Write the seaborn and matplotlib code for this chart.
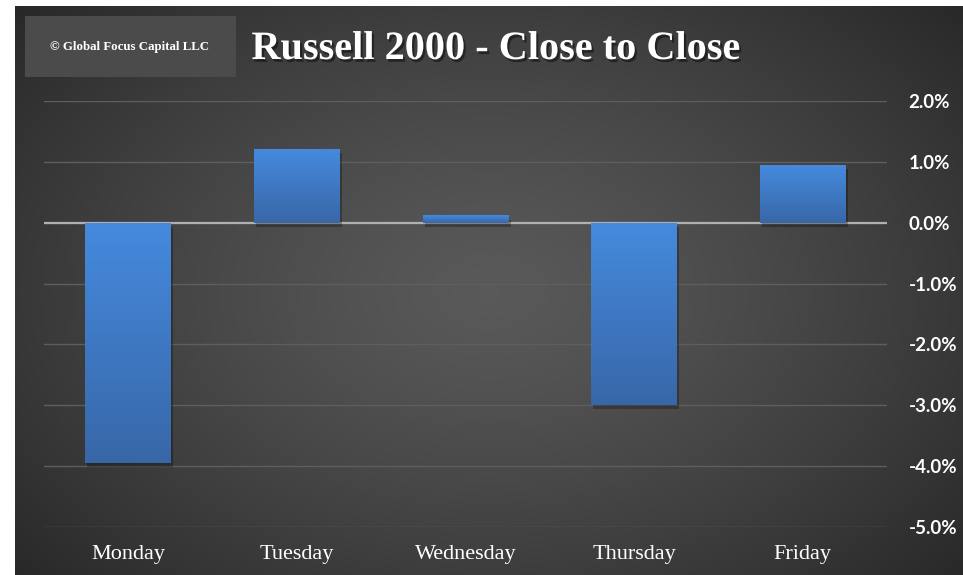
import numpy as np
import pandas as pd
import matplotlib
matplotlib.use("Agg")
import matplotlib.pyplot as plt
import matplotlib.patheffects as pe
from matplotlib.ticker import FuncFormatter
import seaborn as sns

# ---- data ----
days = ["Monday", "Tuesday", "Wednesday", "Thursday", "Friday"]
returns = [-0.0395, 0.0121, 0.0012, -0.0299, 0.0095]
y_ticks = [0.02, 0.01, 0.0, -0.01, -0.02, -0.03, -0.04, -0.05]
title = "Russell 2000 - Close to Close"
watermark = "\u00a9 Global Focus Capital LLC"

df = pd.DataFrame({"day": days, "ret": returns})

W, H = 963, 575
fig = plt.figure(figsize=(W / 100, H / 100), dpi=100, facecolor="white")

# background with radial gradient
bg = fig.add_axes([15 / W, 0, (W - 15) / W, (H - 6) / H])
bg.set_axis_off()
yy, xx = np.mgrid[0:300, 0:500]
cx, cy = 250, 150
r = np.sqrt(((xx - cx) / 250.0) ** 2 + ((yy - cy) / 170.0) ** 2)
r = np.clip(r / 1.35, 0, 1)
c0, c1 = 0.35, 0.155
val = c0 + (c1 - c0) * r ** 1.3
img = np.dstack([val, val, val])
bg.imshow(img, aspect="auto", extent=[0, 1, 0, 1], interpolation="bilinear")
bg.set_xlim(0, 1)
bg.set_ylim(0, 1)

# main axes
ax = fig.add_axes([44 / W, (H - 527) / H, 843 / W, 426 / H])
ax.patch.set_alpha(0)
sns.barplot(data=df, x="day", y="ret", ax=ax, color="#4282d6", width=0.51,
            saturation=1, zorder=3)

# bar gradients and shadows
grad = np.linspace(0, 1, 100).reshape(-1, 1)
top_c = np.array([0x45, 0x8a, 0xdd]) / 255
bot_c = np.array([0x38, 0x67, 0xa8]) / 255
gimg = top_c[None, None, :] * (1 - grad[:, :, None]) + bot_c[None, None, :] * grad[:, :, None]
for p in ax.patches:
    p.set_edgecolor("none")
    p.set_path_effects([pe.SimplePatchShadow(offset=(1.5, -3), shadow_rgbFace="black", alpha=0.28),
                        pe.Normal()])
    x0, y0 = p.get_x(), p.get_y()
    w, h = p.get_width(), p.get_height()
    ylo, yhi = min(y0, y0 + h), max(y0, y0 + h)
    im = ax.imshow(gimg, extent=[x0, x0 + w, ylo, yhi], aspect="auto", zorder=4,
                   interpolation="bilinear")
    im.set_clip_path(p)
ax.set_xlim(-0.5, 4.5)
ax.set_ylim(-0.05, 0.02)

ax.set_yticks(y_ticks)
ax.yaxis.tick_right()
ax.yaxis.set_major_formatter(FuncFormatter(lambda v, _: f"{v * 100:.1f}%"))
for lab in ax.get_yticklabels():
    lab.set_fontfamily("Lato")
    lab.set_fontweight("bold")
    lab.set_fontsize(13.5)
    lab.set_color("white")
    lab.set_horizontalalignment("left")
ax.tick_params(axis="y", length=0, pad=15.5)
ax.tick_params(axis="x", length=0, pad=13)
for lab in ax.get_xticklabels():
    lab.set_fontfamily("Liberation Serif")
    lab.set_fontsize(16)
    lab.set_color("white")
ax.set_xlabel("")
ax.set_ylabel("")
for s in ax.spines.values():
    s.set_visible(False)
ax.grid(axis="y", color="#5e5e5e", linewidth=1, zorder=0)
ax.grid(axis="x", visible=False)
ax.axhline(0, color="#b0b0b0", linewidth=1.6, zorder=2)

# watermark box
fig.patches.append(plt.Rectangle((25 / W, (H - 77) / H), 211 / W, 61 / H,
                                 transform=fig.transFigure, facecolor="#4b4b4b",
                                 edgecolor="none", zorder=5))
fig.text(130 / W, (H - 47) / H, watermark, ha="center", va="center",
         fontsize=9.3, fontweight="bold", family="Liberation Serif", color="white", zorder=6)

# title
fig.text(496 / W, (H - 59) / H, title, ha="center", va="baseline", fontsize=29,
         fontweight="bold", family="Liberation Serif", color="white", zorder=6,
         path_effects=[pe.withSimplePatchShadow(offset=(1.5, -2), shadow_rgbFace="black", alpha=0.45)])

fig.savefig("out.png", dpi=100, facecolor="white")
